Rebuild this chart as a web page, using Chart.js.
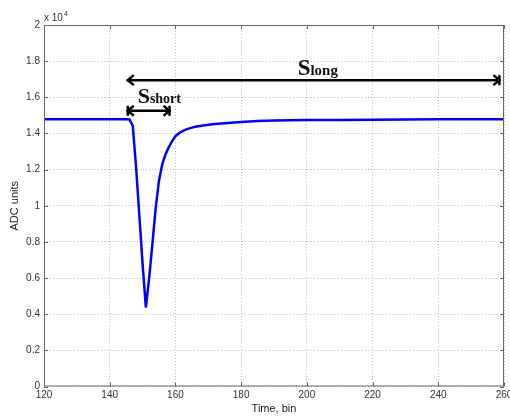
<!DOCTYPE html>
<html>
<head>
<meta charset="utf-8">
<script src="https://cdn.jsdelivr.net/npm/chart.js@4"></script>
<style>
html,body{margin:0;padding:0;background:#fff;}
#wrap{width:510px;height:416px;position:relative;}
</style>
</head>
<body>
<div id="wrap"><canvas id="c" width="510" height="416"></canvas></div>
<script>
// Data (time bin, ADC units)
const bins = [120,125,130,135,140,143,145,146,147,148,149,150,151,152,153,154,155,156,157,158,159,160,161,162,163,164,165,166,168,170,172,175,178,180,185,190,200,210,220,230,240,250,260];
const adc  = [14790,14790,14790,14790,14790,14790,14790,14770,14440,12200,9500,6800,4370,6000,7900,9900,11400,12300,12850,13250,13580,13850,14000,14110,14200,14270,14320,14370,14430,14480,14520,14570,14610,14640,14690,14715,14740,14750,14760,14770,14780,14780,14780];
const xTicks = [120,140,160,180,200,220,240,260];
const yTicks = [0,2000,4000,6000,8000,10000,12000,14000,16000,18000,20000];
// Annotation arrows: [x start, x end, y] in data units
const arrowLong  = [145.2, 258.9, 16950];
const arrowShort = [145.2, 158.5, 15260];
// Annotation labels: [x, y baseline] in data units
const labelLong  = [197.2, 17260];
const labelShort = [148.5, 15700];

const frameColor = '#666';
const annot = {
  id: 'annot',
  afterDraw(chart) {
    const ctx = chart.ctx, xs = chart.scales.x, ys = chart.scales.y;
    const a = chart.chartArea;
    ctx.save();
    ctx.strokeStyle = frameColor; ctx.lineWidth = 1;
    ctx.strokeRect(a.left + 0.5, a.top + 0.5, a.right - a.left - 1, a.bottom - a.top - 1);
    ctx.beginPath();
    xTicks.forEach(v => {
      const px = Math.round(xs.getPixelForValue(v)) + 0.5;
      ctx.moveTo(px, a.bottom); ctx.lineTo(px, a.bottom - 4);
      ctx.moveTo(px, a.top); ctx.lineTo(px, a.top + 4);
    });
    yTicks.forEach(v => {
      const py = Math.round(ys.getPixelForValue(v)) + 0.5;
      ctx.moveTo(a.left, py); ctx.lineTo(a.left + 4, py);
      ctx.moveTo(a.right, py); ctx.lineTo(a.right - 4, py);
    });
    ctx.stroke();
    ctx.fillStyle = '#333';
    ctx.font = '10px "Liberation Sans", Arial, sans-serif';
    ctx.textBaseline = 'alphabetic'; ctx.textAlign = 'left';
    ctx.fillText('x 10', a.left, a.top - 4);
    const w = ctx.measureText('x 10').width;
    ctx.font = '7px "Liberation Sans", Arial, sans-serif';
    ctx.fillText('4', a.left + w + 1, a.top - 9);

    ctx.strokeStyle = '#000'; ctx.fillStyle = '#000';
    ctx.lineWidth = 2.5; ctx.lineCap = 'butt';
    function arrow(arr, barLeft, barRight) {
      const x1 = xs.getPixelForValue(arr[0]), x2 = xs.getPixelForValue(arr[1]), y = ys.getPixelForValue(arr[2]);
      ctx.beginPath(); ctx.moveTo(x1, y); ctx.lineTo(x2, y); ctx.stroke();
      ctx.beginPath();
      ctx.moveTo(x1 + 7, y - 5); ctx.lineTo(x1 + 1, y); ctx.lineTo(x1 + 7, y + 5);
      ctx.moveTo(x2 - 7, y - 5); ctx.lineTo(x2 - 1, y); ctx.lineTo(x2 - 7, y + 5);
      ctx.stroke();
      ctx.beginPath();
      if (barLeft) { ctx.moveTo(x1 + 1, y - 5); ctx.lineTo(x1 + 1, y + 5); }
      if (barRight) { ctx.moveTo(x2 - 1, y - 5); ctx.lineTo(x2 - 1, y + 5); }
      ctx.stroke();
    }
    arrow(arrowLong, false, true);
    arrow(arrowShort, true, true);

    function label(pos, big, sub, bigSize, subSize) {
      const x = xs.getPixelForValue(pos[0]), y = ys.getPixelForValue(pos[1]);
      ctx.fillStyle = '#111';
      ctx.font = 'bold ' + bigSize + 'px "Liberation Serif", "Times New Roman", serif';
      ctx.textAlign = 'left'; ctx.textBaseline = 'alphabetic';
      ctx.fillText(big, x, y);
      const bw = ctx.measureText(big).width;
      ctx.font = 'bold ' + subSize + 'px "Liberation Serif", "Times New Roman", serif';
      ctx.fillText(sub, x + bw, y);
    }
    label(labelLong, 'S', 'long', 23, 15);
    label(labelShort, 'S', 'short', 22, 14);
    ctx.restore();
  }
};

new Chart(document.getElementById('c'), {
  type: 'line',
  data: {
    datasets: [{
      data: bins.map((b, i) => ({x: b, y: adc[i]})),
      borderColor: '#0000ff',
      borderWidth: 2.5,
      pointRadius: 0,
      tension: 0,
      fill: false
    }]
  },
  options: {
    responsive: false,
    animation: false,
    events: [],
    layout: {padding: {left: 0, right: 6, top: 25, bottom: 0}},
    plugins: {legend: {display: false}, tooltip: {enabled: false}},
    scales: {
      x: {
        type: 'linear', min: 120, max: 260,
        afterFit(s) { s.height = 29.5; s.paddingRight = 0; s.paddingLeft = 0; },
        afterBuildTicks(s) { s.ticks = xTicks.map(v => ({value: v})); },
        border: {display: false, dash: [1, 2]},
        grid: {color: '#bdbdbd', drawTicks: false, lineWidth: 1},
        ticks: {color: '#333', font: {family: '"Liberation Sans", Arial, sans-serif', size: 10}, padding: 3, maxRotation: 0},
        title: {display: true, text: 'Time, bin', color: '#222', font: {family: '"Liberation Sans", Arial, sans-serif', size: 11}, padding: {top: 1.5, bottom: 0}}
      },
      y: {
        type: 'linear', min: 0, max: 20000,
        afterFit(s) { s.width = 44; s.paddingTop = 0; s.paddingBottom = 0; },
        afterBuildTicks(s) { s.ticks = yTicks.map(v => ({value: v})); },
        border: {display: false, dash: [1, 2]},
        grid: {color: '#bdbdbd', drawTicks: false, lineWidth: 1},
        ticks: {color: '#333', font: {family: '"Liberation Sans", Arial, sans-serif', size: 10}, padding: 4,
          callback: v => String(Math.round(v / 1000) / 10)},
        title: {display: true, text: 'ADC units', color: '#222', font: {family: '"Liberation Sans", Arial, sans-serif', size: 11}, padding: {top: 8.5, bottom: 0}}
      }
    }
  },
  plugins: [annot]
});
</script>
</body>
</html>
